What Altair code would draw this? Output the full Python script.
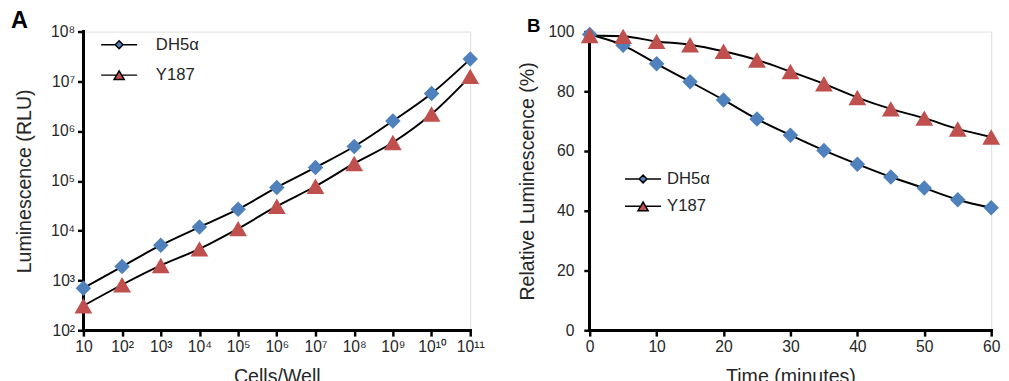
import altair as alt
import pandas as pd

# ---------------- data ----------------
series_names = ["DH5α", "Y187"]
series_colors = ["#4F81BD", "#C0504D"]
series_markers = ["diamond", "triangle-up"]

cells = [1e1, 1e2, 1e3, 1e4, 1e5, 1e6, 1e7, 1e8, 1e9, 1e10, 1e11]
lum_dh5a = [700, 1900, 5100, 11800, 27000, 74000, 186000, 490000, 1.6e6, 5.7e6, 2.8e7]
lum_y187 = [310, 820, 2000, 4300, 11000, 31000, 78000, 224000, 590000, 2.2e6, 1.26e7]

x_tick_labels = ["", "10", "10²", "10³", "10⁴", "10⁵", "10⁶", "10⁷", "10⁸", "10⁹", "10¹⁰", "10¹¹"]
y_tick_values_a = [1e2, 1e3, 1e4, 1e5, 1e6, 1e7, 1e8]
x_domain_a = [1e1, 1e11]
y_domain_a = [1e2, 1e8]

minutes = [0, 5, 10, 15, 20, 25, 30, 35, 40, 45, 50, 55, 60]
rel_dh5a = [99.0, 95.4, 89.2, 83.2, 77.1, 70.7, 65.3, 60.2, 55.6, 51.3, 47.6, 43.7, 41.0]
rel_y187 = [98.7, 98.4, 96.7, 95.6, 93.4, 90.5, 86.6, 82.5, 77.9, 74.1, 71.0, 67.4, 64.7]
x_ticks_b = [0, 10, 20, 30, 40, 50, 60]
y_ticks_b = [0, 20, 40, 60, 80, 100]
x_domain_b = [0, 60]
y_domain_b = [0, 100]


def make_df(xs, y1, y2):
    n = len(xs)
    return pd.DataFrame({
        "x": xs * 2,
        "y": y1 + y2,
        "series": [series_names[0]] * n + [series_names[1]] * n,
        "marker": [series_markers[0]] * n + [series_markers[1]] * n,
        "col": [series_colors[0]] * n + [series_colors[1]] * n,
    })


df_a = make_df(cells, lum_dh5a, lum_y187)
df_b = make_df(minutes, rel_dh5a, rel_y187)

FONT = "Liberation Sans"
TXT = "#262626"

leg_paths = [
    "M-4.6,0H-1M1,0H4.6M-1,0L0,-1L1,0L0,1Z",
    "M-4.6,0H-0.6M0.6,0H4.6M0,-1.1L-1.3,1.1L1.3,1.1Z",
]

label_array = "[" + ",".join(f"'{s}'" for s in x_tick_labels) + "]"
log_label_expr = f"{label_array}[round(log(datum.value)/LN10)]"


def axis(**kw):
    base = dict(
        domain=False,
        ticks=True, tickColor="#000000", tickWidth=2.5, tickSize=6, tickOpacity=1,
        grid=False, labelFont=FONT, labelFontSize=16, labelColor=TXT,
        titleFont=FONT, titleFontSize=20, titleColor=TXT, titleFontWeight="normal",
        labelPadding=3, labelFlush=False, labelOverlap=False, labelBound=False,
    )
    base.update(kw)
    return alt.Axis(**base)


def legend(lx, ly, loff, rowpad):
    return alt.Legend(
        title=None, orient="none", legendX=lx, legendY=ly, padding=0,
        labelFont=FONT, labelFontSize=17, labelColor=TXT, labelOffset=loff,
        symbolSize=64, rowPadding=rowpad, symbolStrokeColor="black",
        symbolStrokeWidth=1.5, symbolOpacity=1,
    )


def panel(df, xenc, yenc, xdom, ydom, leg, letter, letter_dx, letter_dy, letter_size, w):
    base = alt.Chart(df)
    # axis lines drawn through the scales at the domain edges
    yline = base.mark_rule(color="black", strokeWidth=2.5, strokeCap="square").encode(
        x=alt.datum(xdom[0]), y=alt.datum(ydom[0]), y2=alt.datum(ydom[1]))
    xline = base.mark_rule(color="black", strokeWidth=2.5, strokeCap="square").encode(
        y=alt.datum(ydom[0]), x=alt.datum(xdom[0]), x2=alt.datum(xdom[1]))
    line = base.mark_line(color="black", strokeWidth=2, interpolate="monotone").encode(
        x=xenc, y=yenc, detail="series:N")
    pts = base.mark_point(filled=True, opacity=1).encode(
        x=xenc, y=yenc,
        color=alt.Color("col:N", scale=None),
        shape=alt.Shape("marker:N", scale=None),
        size=alt.condition(f"datum.series === '{series_names[0]}'",
                           alt.value(250), alt.value(330)))
    leg_layer = base.transform_filter("false").mark_point(
        filled=True, size=64, opacity=1, stroke="black", strokeWidth=1.5).encode(
        x=xenc, y=yenc,
        color=alt.Color("series:N", scale=alt.Scale(domain=series_names, range=series_colors),
                        legend=leg),
        shape=alt.Shape("series:N", scale=alt.Scale(domain=series_names, range=leg_paths),
                        legend=leg))
    return alt.layer(line, yline, xline, pts, leg_layer).properties(
        width=w, height=305,
        title=alt.TitleParams(letter, anchor="start", frame="group", orient="top",
                              dx=letter_dx, dy=letter_dy, offset=0, fontSize=letter_size,
                              fontWeight="bold", font=FONT, color="black",
                              baseline="alphabetic"),
    )


xa = alt.X("x:Q", scale=alt.Scale(type="log", domain=x_domain_a, nice=False),
           axis=axis(values=cells, labelExpr=log_label_expr, title="Cells/Well",
                     titlePadding=12))
ya = alt.Y("y:Q", scale=alt.Scale(type="log", domain=y_domain_a, nice=False),
           axis=axis(values=y_tick_values_a, labelExpr=log_label_expr,
                     title="Luminescence (RLU)", titlePadding=16))
xb = alt.X("x:Q", scale=alt.Scale(domain=x_domain_b, nice=False),
           axis=axis(values=x_ticks_b, title="Time (minutes)", titlePadding=12))
yb = alt.Y("y:Q", scale=alt.Scale(domain=y_domain_b, nice=False),
           axis=axis(values=y_ticks_b, title="Relative Luminescence (%)",
                     titlePadding=11, labelPadding=10))

pa = panel(df_a, xa, ya, x_domain_a, y_domain_a, legend(28, 5, 29, 13), "A", -74, 28, 24, 395)
pb = panel(df_b, xb, yb, x_domain_b, y_domain_b, legend(46, 142, 16, 10), "B", -64, 27, 19, 410)

chart = alt.hconcat(pa, pb, spacing=32).resolve_scale(
    color="independent", shape="independent", x="independent", y="independent"
).properties(
    padding={"left": 2, "top": -4, "right": 0, "bottom": 0}
).configure_view(stroke=None).configure(font=FONT)

chart.save("out.html", embed_options={"renderer": "svg", "actions": False})
